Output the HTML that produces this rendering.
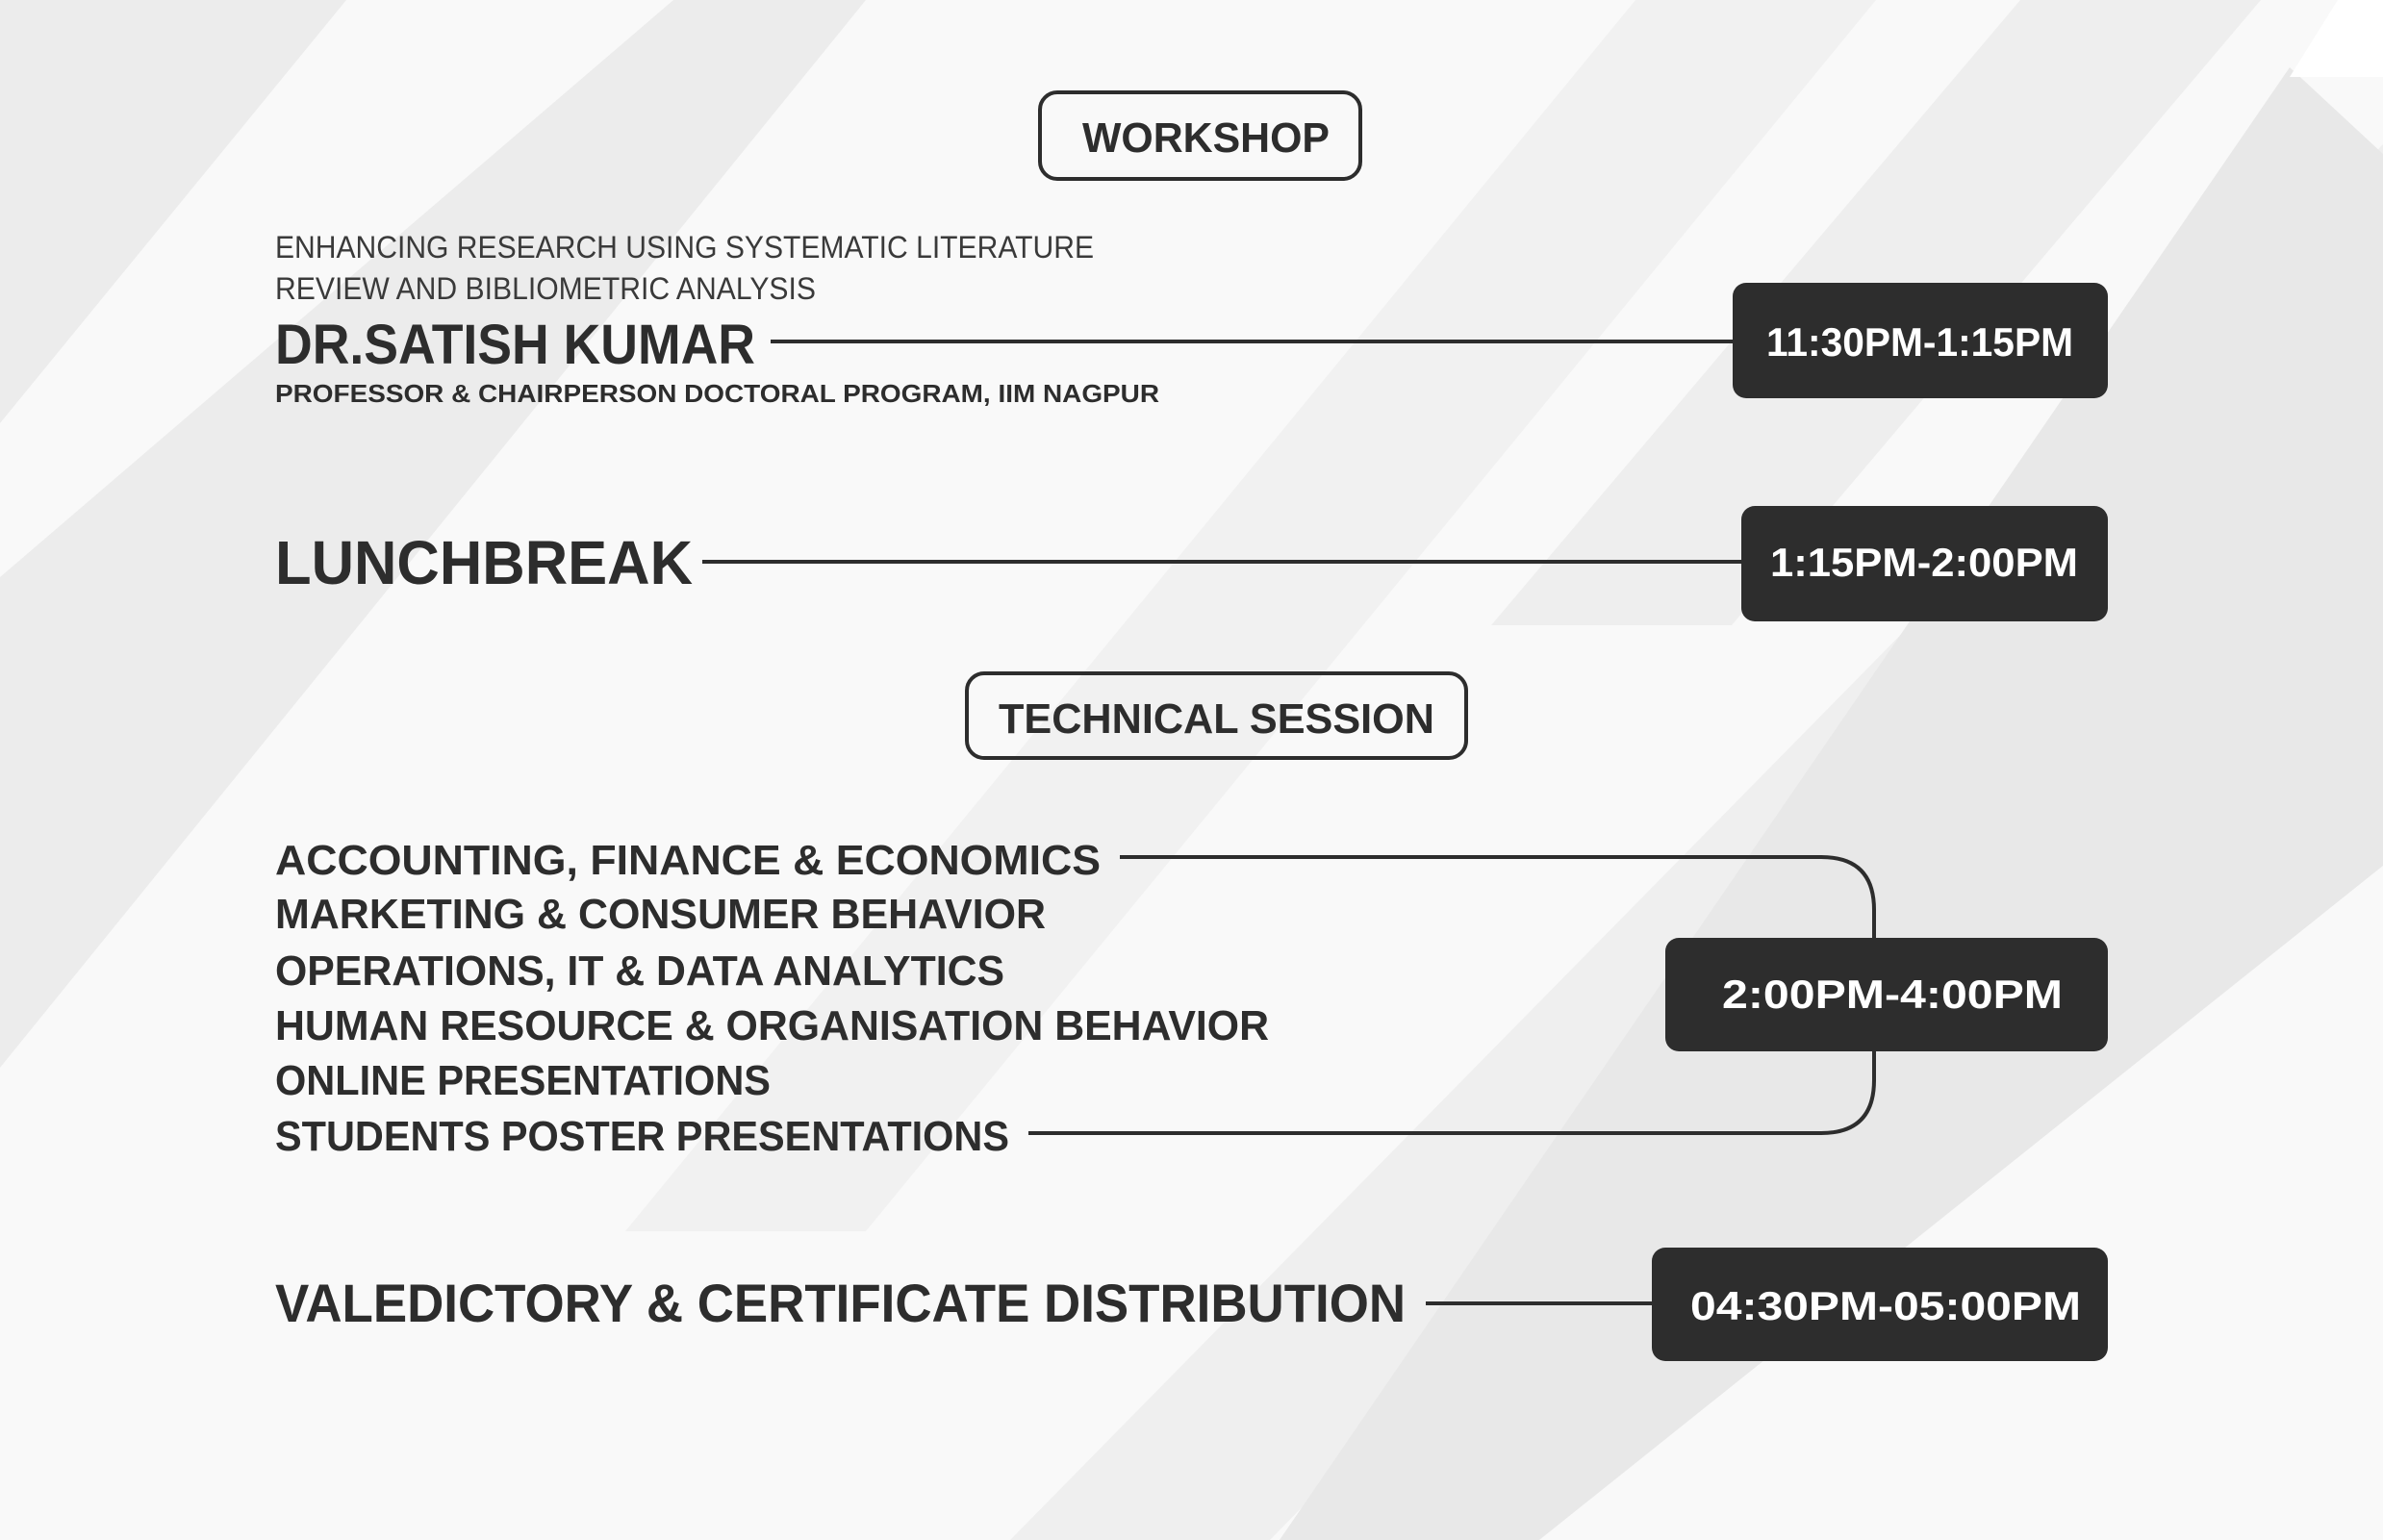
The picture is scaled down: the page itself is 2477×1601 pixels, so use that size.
<!DOCTYPE html>
<html><head><meta charset="utf-8"><style>
html,body{margin:0;padding:0;background:#fafafa}
svg{display:block}
text{font-family:"Liberation Sans",Arial,sans-serif}
</style></head><body>
<svg width="2477" height="1601" viewBox="0 0 2477 1601" xmlns="http://www.w3.org/2000/svg">
<rect width="2477" height="1601" fill="#f9f9f9"/>
<g fill="#ececec">
<polygon points="0,0 360,0 0,440"/>
<polygon points="0,600 700,0 900,0 0,1110"/>
<polygon points="1050,1601 2477,150 2477,420 1320,1601" fill="#efefef"/>
<polygon points="1700,0 1950,0 900,1280 650,1280" fill="#f1f1f1"/>
<polygon points="2100,0 2350,0 1800,650 1550,650" fill="#eeeeee"/>
<polygon points="2380,70 2477,160 2477,900 1600,1601 1330,1601" fill="#e8e8e8"/>
<polygon points="2430,0 2477,0 2477,80 2380,80" fill="#ffffff"/>
</g>
<g fill="none" stroke="#2d2d2d">
<rect x="1081" y="96" width="333" height="90" rx="18" stroke-width="4"/>
<rect x="1005" y="700" width="519" height="88" rx="18" stroke-width="4"/>
<g stroke-width="4">
<line x1="801" y1="355" x2="1801" y2="355"/>
<line x1="730" y1="584" x2="1810" y2="584"/>
<path d="M1164 891 H1893 Q1948 891 1948 946 V975"/>
<path d="M1948 1093 V1123 Q1948 1178 1893 1178 H1069"/>
<line x1="1482" y1="1355" x2="1717" y2="1355"/>
</g>
</g>
<g fill="#2d2d2d">
<rect x="1801" y="294" width="390" height="120" rx="14"/>
<rect x="1810" y="526" width="381" height="120" rx="14"/>
<rect x="1731" y="975" width="460" height="118" rx="14"/>
<rect x="1717" y="1297" width="474" height="118" rx="14"/>
</g>
<g fill="#2d2d2d" font-weight="bold">
<text x="1125" y="158" font-size="44" textLength="257" lengthAdjust="spacingAndGlyphs">WORKSHOP</text>
<text x="286" y="268" font-size="32" font-weight="normal" fill="#3a3a3a" textLength="851" lengthAdjust="spacingAndGlyphs">ENHANCING RESEARCH USING SYSTEMATIC LITERATURE</text>
<text x="286" y="311" font-size="32" font-weight="normal" fill="#3a3a3a" textLength="562" lengthAdjust="spacingAndGlyphs">REVIEW AND BIBLIOMETRIC ANALYSIS</text>
<text x="286" y="378" font-size="58" textLength="499" lengthAdjust="spacingAndGlyphs">DR.SATISH KUMAR</text>
<text x="286" y="418" font-size="26" textLength="919" lengthAdjust="spacingAndGlyphs">PROFESSOR &amp; CHAIRPERSON DOCTORAL PROGRAM, IIM NAGPUR</text>
<text x="286" y="607" font-size="64" textLength="434" lengthAdjust="spacingAndGlyphs">LUNCHBREAK</text>
<text x="1038" y="762" font-size="44" textLength="453" lengthAdjust="spacingAndGlyphs">TECHNICAL SESSION</text>
<text x="286" y="909" font-size="44" textLength="858" lengthAdjust="spacingAndGlyphs">ACCOUNTING, FINANCE &amp; ECONOMICS</text>
<text x="286" y="965" font-size="44" textLength="801" lengthAdjust="spacingAndGlyphs">MARKETING &amp; CONSUMER BEHAVIOR</text>
<text x="286" y="1024" font-size="44" textLength="758" lengthAdjust="spacingAndGlyphs">OPERATIONS, IT &amp; DATA ANALYTICS</text>
<text x="286" y="1081" font-size="44" textLength="1033" lengthAdjust="spacingAndGlyphs">HUMAN RESOURCE &amp; ORGANISATION BEHAVIOR</text>
<text x="286" y="1138" font-size="44" textLength="515" lengthAdjust="spacingAndGlyphs">ONLINE PRESENTATIONS</text>
<text x="286" y="1196" font-size="44" textLength="763" lengthAdjust="spacingAndGlyphs">STUDENTS POSTER PRESENTATIONS</text>
<text x="286" y="1374" font-size="56" textLength="1175" lengthAdjust="spacingAndGlyphs">VALEDICTORY &amp; CERTIFICATE DISTRIBUTION</text>
</g>
<g fill="#ffffff" font-weight="bold" font-size="42">
<text x="1836" y="370" textLength="319" lengthAdjust="spacingAndGlyphs">11:30PM-1:15PM</text>
<text x="1840" y="599" textLength="320" lengthAdjust="spacingAndGlyphs">1:15PM-2:00PM</text>
<text x="1790" y="1048" textLength="354" lengthAdjust="spacingAndGlyphs">2:00PM-4:00PM</text>
<text x="1757" y="1372" textLength="406" lengthAdjust="spacingAndGlyphs">04:30PM-05:00PM</text>
</g>
</svg>
</body></html>
